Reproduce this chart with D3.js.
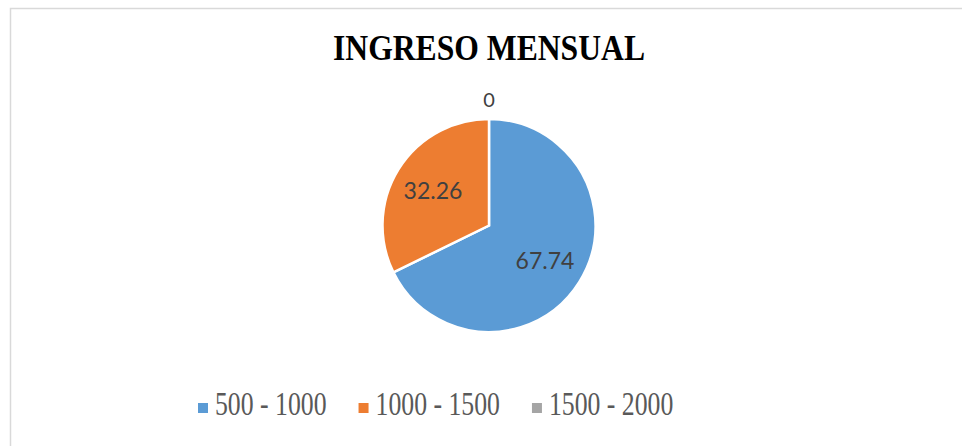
<!DOCTYPE html>
<html lang="es">
<head>
<meta charset="utf-8">
<title>Ingreso mensual</title>
<script src="https://d3js.org/d3.v7.min.js"></script>
<style>
  body { margin: 0; background: #fff; }
  svg { display: block; }
</style>
</head>
<body>
<script>
// Chart data
var categories = ["500 - 1000", "1000 - 1500", "1500 - 2000"];
var values = [67.74, 32.26, 0];
var colors = ["#5B9BD5", "#ED7D31", "#A5A5A5"];

var w = 962, h = 446;
var cx = 489, cy = 225.5, r = 106.5;

var svg = d3.select("body").append("svg")
    .attr("width", w)
    .attr("height", h);

// chart frame (only top and left edges are visible in the picture)
svg.append("rect")
    .attr("x", 10.5).attr("y", 8.5)
    .attr("width", w + 20).attr("height", h + 20)
    .attr("fill", "#fff")
    .attr("stroke", "#D9D9D9")
    .attr("stroke-width", 1.5);

// title
var title = svg.append("text")
    .attr("x", cx).attr("y", 60)
    .attr("text-anchor", "middle")
    .style("font-family", "'Liberation Serif', 'Times New Roman', serif")
    .style("font-weight", "bold")
    .style("font-size", "35px")
    .attr("fill", "#000")
    .text("INGRESO MENSUAL");
title.attr("textLength", 312).attr("lengthAdjust", "spacingAndGlyphs");

var data = categories.map(function(c, i) { return { name: c, value: values[i], color: colors[i] }; });

var pie = d3.pie().sort(null).value(function(d) { return d.value; });
var arc = d3.arc().innerRadius(0).outerRadius(r);
var labelArc = d3.arc().innerRadius(66).outerRadius(66);
var outerArc = d3.arc().innerRadius(126).outerRadius(126);

var g = svg.append("g").attr("transform", "translate(" + cx + "," + cy + ")");

var arcs = pie(data);

g.selectAll("path")
    .data(arcs.filter(function(d) { return d.data.value > 0; }))
    .enter().append("path")
    .attr("d", arc)
    .attr("fill", function(d) { return d.data.color; })
    .attr("stroke", "#fff")
    .attr("stroke-width", 2.5)
    .attr("stroke-linejoin", "miter");

// data labels
g.selectAll("text.lbl")
    .data(arcs)
    .enter().append("text")
    .attr("class", "lbl")
    .attr("transform", function(d) {
        var p = d.data.value > 0 ? labelArc.centroid(d) : outerArc.centroid(d);
        return "translate(" + p[0] + "," + p[1] + ")";
    })
    .attr("text-anchor", "middle")
    .attr("dy", function(d) { return d.data.value > 0 ? "0.36em" : "0.36em"; })
    .style("font-family", "Lato, 'Open Sans', sans-serif")
    .style("font-size", function(d) { return d.data.value > 0 ? "23px" : "20px"; })
    .attr("fill", "#404040")
    .text(function(d) { return d.data.value; });

// legend
var legend = svg.append("g").attr("class", "legend");
var lx = 198;
data.forEach(function(d) {
    legend.append("rect")
        .attr("x", lx).attr("y", 403)
        .attr("width", 10).attr("height", 10)
        .attr("fill", d.color);
    var t = legend.append("text")
        .attr("x", lx + 17).attr("y", 415)
        .style("font-family", "'Liberation Serif', 'Times New Roman', serif")
        .style("font-size", "33px")
        .attr("fill", "#595959")
        .text(d.name);
    var len = t.node().getComputedTextLength() * 0.78;
    t.attr("textLength", len).attr("lengthAdjust", "spacingAndGlyphs");
    lx += 17 + len + 32;
});
</script>
</body>
</html>
